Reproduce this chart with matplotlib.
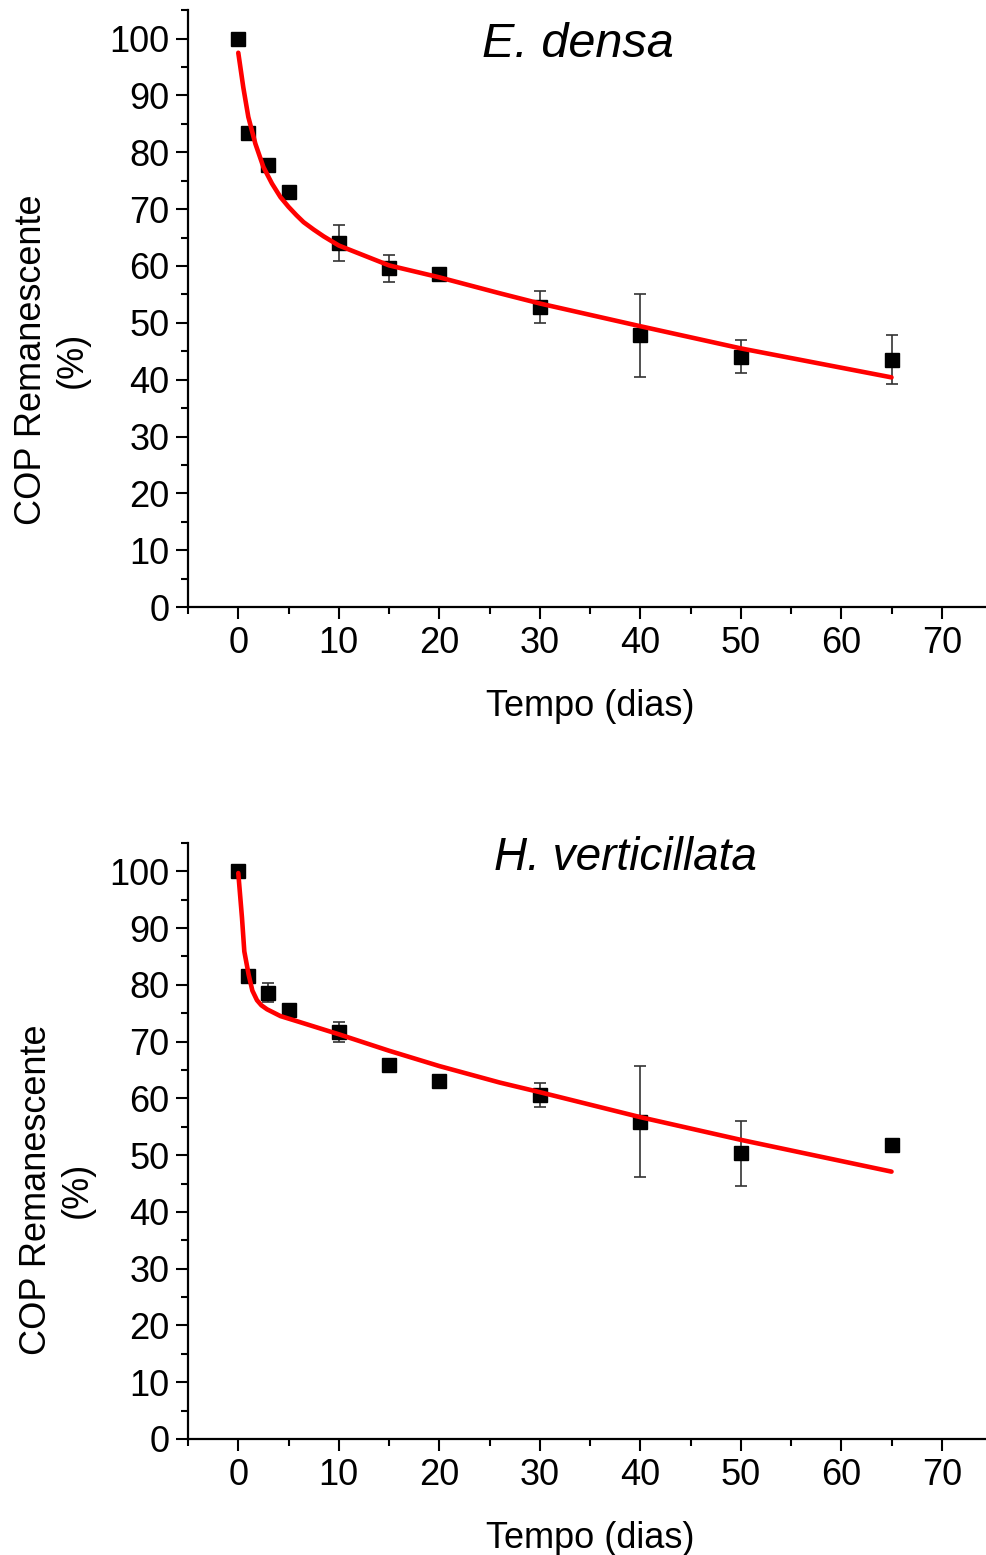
import matplotlib
matplotlib.use("Agg")
import matplotlib.pyplot as plt
from matplotlib.ticker import MultipleLocator

plt.rcParams["font.family"] = ["Liberation Sans", "DejaVu Sans"]

# dias de incubacao
tempo = [0, 1, 3, 5, 10, 15, 20, 30, 40, 50, 65]

# E. densa
cop_ed = [100, 83.3, 77.8, 73.0, 64.0, 59.6, 58.6, 52.8, 47.8, 44.0, 43.5]
err_ed = [0, 0, 1.0, 0, 3.2, 2.4, 0, 2.85, 7.3, 2.9, 4.3]
fit_t_ed = [0, 0.5, 1, 1.7, 2.5, 3.35, 4.2, 5, 5.8, 6.5, 7.5, 8.5, 10, 15, 20, 26, 30, 40, 50, 65]
fit_ed = [97.5, 91.4, 86.2, 81.5, 77.4, 74.5, 72.1, 70.4, 68.9, 67.7, 66.4, 65.2, 63.6, 60.1,
          58.0, 55.2, 53.4, 49.4, 45.5, 40.4]

# H. verticillata
cop_hv = [100, 81.5, 78.6, 75.6, 71.7, 65.9, 63.1, 60.6, 55.9, 50.3, 51.8]
err_hv = [0, 0, 1.7, 0, 1.7, 0, 0, 2.2, 9.8, 5.65, 0]
fit_t_hv = [0, 0.37, 0.6, 1.03, 1.4, 1.86, 2.3, 2.86, 4.2, 5.84, 10, 15, 20, 26, 30, 40, 50, 65]
fit_hv = [99.7, 91.8, 85.9, 81.8, 79.0, 77.3, 76.4, 75.7, 74.5, 73.6, 71.3, 68.4, 65.7, 62.8,
          61.1, 56.7, 52.7, 47.1]

fig = plt.figure(figsize=(9.86, 15.55), dpi=100)
ax1 = fig.add_axes([0.1907, 0.6096, 0.8154, 0.3839])
ax2 = fig.add_axes([0.1907, 0.0746, 0.8154, 0.3833])

panels = [
    (ax1, cop_ed, err_ed, fit_t_ed, fit_ed, "E. densa", 35, (0.485, 0.942), (-0.169, 0.414)),
    (ax2, cop_hv, err_hv, fit_t_hv, fit_hv, "H. verticillata", 33, (0.544, 0.975), (-0.163, 0.418)),
]

for ax, y, e, ft, fy, nome, tsize, tpos, lpos in panels:
    ax.errorbar(tempo, y, yerr=e, fmt="none", ecolor="#333333", elinewidth=1.2,
                capsize=4.5, capthick=1.2, zorder=2)
    ax.plot(tempo, y, "s", color="black", markersize=10.5, zorder=3)
    ax.plot(ft, fy, color="red", lw=3.3, zorder=4, solid_capstyle="round",
            solid_joinstyle="round")
    ax.set_xlim(-5, 75)
    ax.set_ylim(0, 105)
    ax.xaxis.set_major_locator(MultipleLocator(10))
    ax.xaxis.set_minor_locator(MultipleLocator(5))
    ax.yaxis.set_major_locator(MultipleLocator(10))
    ax.yaxis.set_minor_locator(MultipleLocator(5))
    ax.spines["top"].set_visible(False)
    ax.spines["right"].set_visible(False)
    for s in ["left", "bottom"]:
        ax.spines[s].set_linewidth(1.6)
    ax.tick_params(which="major", direction="out", length=8.5, width=1.5, labelsize=26, pad=5)
    ax.tick_params(which="minor", direction="out", length=5, width=1.5)
    ax.set_xlabel("Tempo (dias)", fontsize=26, labelpad=20)
    ax.set_ylabel("COP Remanescente\n(%)", fontsize=26, ha="center", va="center",
                  multialignment="center")
    ax.yaxis.set_label_coords(lpos[0], lpos[1])
    ax.text(tpos[0], tpos[1], nome, transform=ax.transAxes, fontsize=tsize,
            style="italic", ha="center", va="center")

fig.savefig("out.png", dpi=100)
